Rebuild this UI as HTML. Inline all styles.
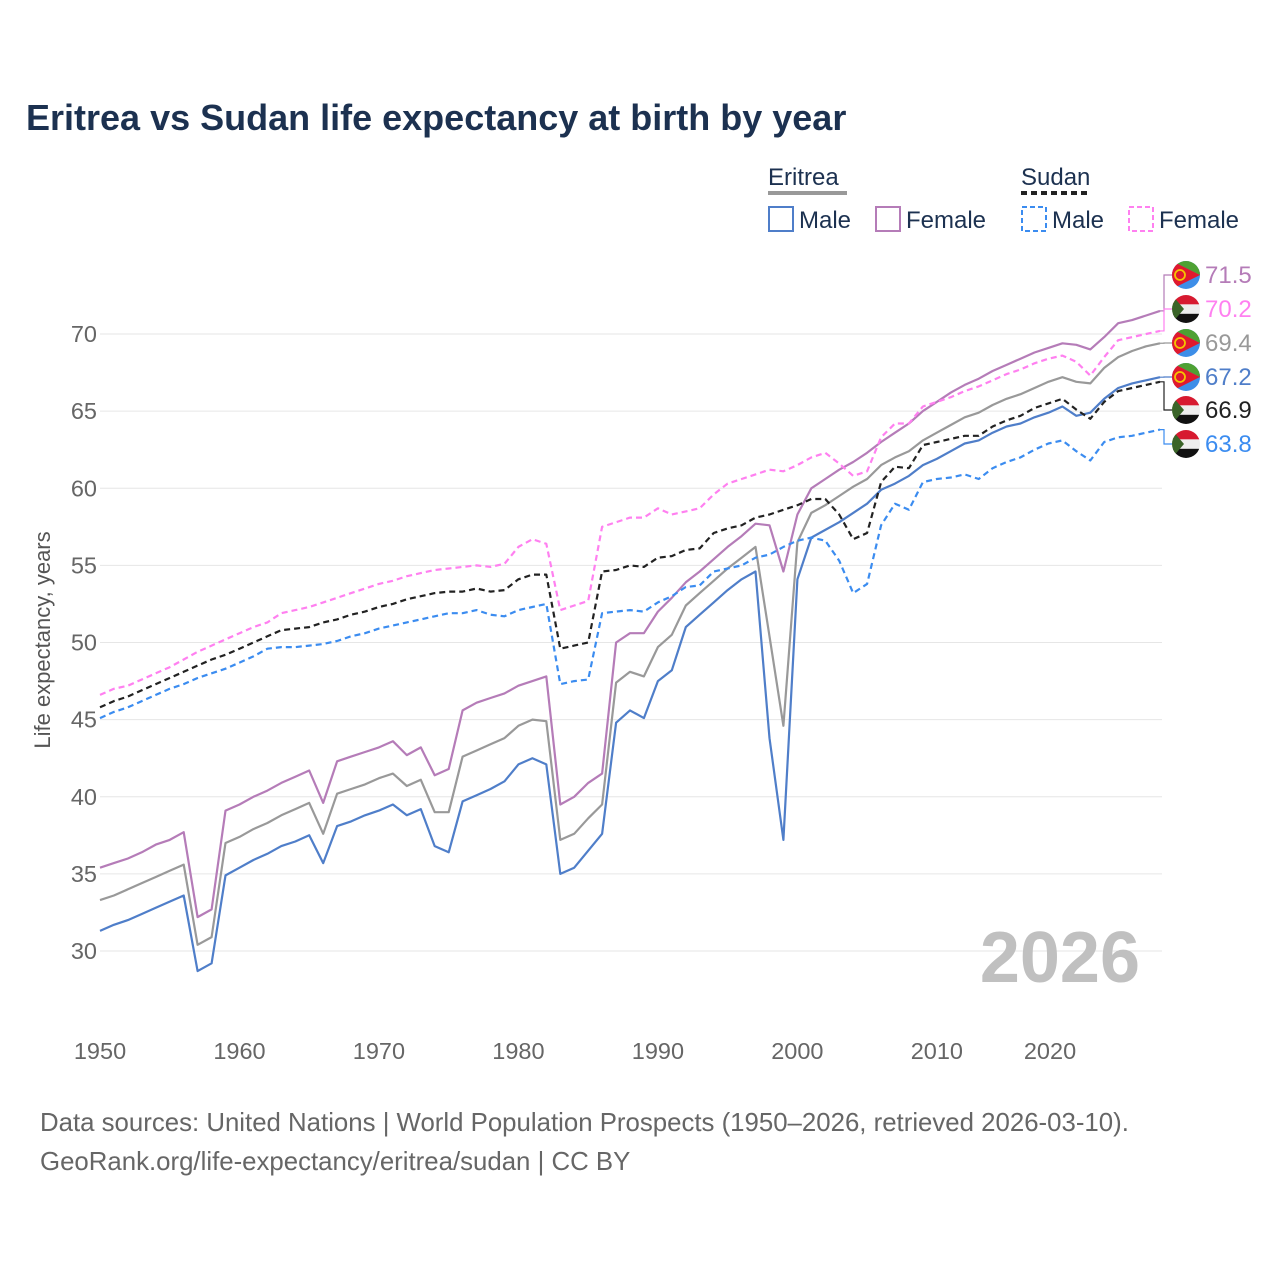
<!DOCTYPE html>
<html><head><meta charset="utf-8"><style>
body{margin:0;background:#fff;font-family:"Liberation Sans",sans-serif;}
svg text{font-family:"Liberation Sans",sans-serif;}
</style></head><body>
<svg id="chart" width="1280" height="1280" viewBox="0 0 1280 1280" xmlns="http://www.w3.org/2000/svg">
<text x="26" y="130" font-size="36" font-weight="bold" fill="#1c3150">Eritrea vs Sudan life expectancy at birth by year</text>
<g>
<text x="768" y="185" font-size="24" fill="#1c3150">Eritrea</text>
<line x1="768" y1="193" x2="847" y2="193" stroke="#999" stroke-width="4"/>
<text x="1021" y="185" font-size="24" fill="#1c3150">Sudan</text>
<line x1="1021" y1="193" x2="1091" y2="193" stroke="#222" stroke-width="4" stroke-dasharray="6,4"/>
<g><rect x="769" y="207" width="24" height="24" fill="none" stroke="#4f7ec9" stroke-width="2"/><text x="799" y="228" font-size="24" fill="#1c3150">Male</text></g>
<g><rect x="876" y="207" width="24" height="24" fill="none" stroke="#b57cb8" stroke-width="2"/><text x="906" y="228" font-size="24" fill="#1c3150">Female</text></g>
<g><rect x="1022" y="207" width="24" height="24" fill="none" stroke="#3b8cf0" stroke-width="2" stroke-dasharray="5,3"/><text x="1052" y="228" font-size="24" fill="#1c3150">Male</text></g>
<g><rect x="1129" y="207" width="24" height="24" fill="none" stroke="#ff80f0" stroke-width="2" stroke-dasharray="5,3"/><text x="1159" y="228" font-size="24" fill="#1c3150">Female</text></g>
</g>
<g id="grid"></g>
<g id="xaxis"></g>
<text transform="translate(50,640) rotate(-90)" text-anchor="middle" font-size="22" fill="#555">Life expectancy, years</text>
<text x="1140" y="982" text-anchor="end" font-size="72" font-weight="bold" fill="#c0c0c0">2026</text>
<g id="series"></g>
<g id="labels"></g>
<text x="40" y="1131" font-size="25.8" fill="#666">Data sources: United Nations | World Population Prospects (1950–2026, retrieved 2026-03-10).</text>
<text x="40" y="1170" font-size="25.8" fill="#666">GeoRank.org/life-expectancy/eritrea/sudan | CC BY</text>
</svg>
<script>
const startYear = 1950;
const yTicks = [30,35,40,45,50,55,60,65,70];
const xTicks = [1950,1960,1970,1980,1990,2000,2010,2020];
const eritreaMale = [31.3,31.7,32.0,32.4,32.8,33.2,33.6,28.7,29.2,34.9, 35.4,35.9,36.3,36.8,37.1,37.5,35.7,38.1,38.4,38.8, 39.1,39.5,38.8,39.2,36.8,36.4,39.7,40.1,40.5,41.0, 42.1,42.5,42.1,35.0,35.4,36.5,37.6,44.8,45.6,45.1, 47.5,48.2,51.0,51.8,52.6,53.4,54.1,54.6,43.8,37.2, 54.1,56.8,57.3,57.8,58.4,59.0,59.9,60.3,60.8,61.5, 61.9,62.4,62.9,63.1,63.6,64.0,64.2,64.6,64.9,65.3, 64.7,64.9,65.8,66.5,66.8,67.0,67.2];
const eritreaBoth = [33.3,33.6,34.0,34.4,34.8,35.2,35.6,30.4,30.9,37.0, 37.4,37.9,38.3,38.8,39.2,39.6,37.6,40.2,40.5,40.8, 41.2,41.5,40.7,41.1,39.0,39.0,42.6,43.0,43.4,43.8, 44.6,45.0,44.9,37.2,37.6,38.6,39.5,47.4,48.1,47.8, 49.7,50.5,52.4,53.2,54.0,54.8,55.5,56.2,50.4,44.6, 56.5,58.4,58.9,59.5,60.1,60.6,61.5,62.0,62.4,63.1, 63.6,64.1,64.6,64.9,65.4,65.8,66.1,66.5,66.9,67.2, 66.9,66.8,67.8,68.5,68.9,69.2,69.4];
const eritreaFemale = [35.4,35.7,36.0,36.4,36.9,37.2,37.7,32.2,32.7,39.1, 39.5,40.0,40.4,40.9,41.3,41.7,39.6,42.3,42.6,42.9, 43.2,43.6,42.7,43.2,41.4,41.8,45.6,46.1,46.4,46.7, 47.2,47.5,47.8,39.5,40.0,40.9,41.5,50.0,50.6,50.6, 52.0,52.9,53.9,54.6,55.4,56.2,56.9,57.7,57.6,54.6, 58.3,60.0,60.6,61.2,61.7,62.3,63.0,63.6,64.2,65.0, 65.6,66.2,66.7,67.1,67.6,68.0,68.4,68.8,69.1,69.4, 69.3,69.0,69.8,70.7,70.9,71.2,71.5];
const sudanBoth = [45.8,46.2,46.5,46.9,47.3,47.7,48.1,48.5,48.9,49.2, 49.6,50.0,50.4,50.8,50.9,51.0,51.3,51.5,51.8,52.0, 52.3,52.5,52.8,53.0,53.2,53.3,53.3,53.5,53.3,53.4, 54.1,54.4,54.4,49.6,49.8,50.0,54.6,54.7,55.0,54.9, 55.5,55.6,56.0,56.1,57.1,57.4,57.6,58.1,58.3,58.6, 58.9,59.3,59.3,58.3,56.7,57.1,60.4,61.4,61.3,62.8, 63.0,63.2,63.4,63.4,64.0,64.4,64.7,65.2,65.5,65.8, 65.1,64.5,65.6,66.3,66.5,66.7,66.9];
const sudanMale = [45.1,45.5,45.8,46.2,46.6,47.0,47.3,47.7,48.0,48.3, 48.7,49.1,49.6,49.7,49.7,49.8,49.9,50.1,50.4,50.6, 50.9,51.1,51.3,51.5,51.7,51.9,51.9,52.1,51.8,51.7, 52.1,52.3,52.5,47.3,47.5,47.6,51.9,52.0,52.1,52.0, 52.6,53.0,53.6,53.7,54.6,54.8,55.0,55.5,55.7,56.2, 56.6,56.8,56.6,55.3,53.2,53.8,57.6,59.0,58.6,60.4, 60.6,60.7,60.9,60.6,61.3,61.7,62.0,62.5,62.9,63.1, 62.4,61.8,63.0,63.3,63.4,63.6,63.8];
const sudanFemale = [46.6,47.0,47.2,47.6,48.0,48.4,48.9,49.4,49.8,50.2, 50.6,51.0,51.3,51.9,52.1,52.3,52.6,52.9,53.2,53.5, 53.8,54.0,54.3,54.5,54.7,54.8,54.9,55.0,54.9,55.1, 56.2,56.7,56.4,52.1,52.4,52.7,57.5,57.8,58.1,58.1, 58.7,58.3,58.5,58.7,59.6,60.3,60.6,60.9,61.2,61.1, 61.5,62.0,62.3,61.6,60.8,61.1,63.3,64.2,64.2,65.3, 65.6,65.9,66.3,66.6,67.0,67.4,67.7,68.1,68.4,68.6, 68.2,67.3,68.5,69.6,69.8,70.0,70.2];

const NS='http://www.w3.org/2000/svg';
const X0=100, XW=(1160-100)/76;
function x(yr){return X0+(yr-startYear)*XW;}
function y(v){return 951-(v-30)*15.425;}
function mk(tag,attrs,parent){const e=document.createElementNS(NS,tag);for(const k in attrs)e.setAttribute(k,attrs[k]);parent.appendChild(e);return e;}

const grid=document.getElementById('grid');
yTicks.forEach(t=>{
  const l=mk('line',{x1:100,x2:1162,y1:y(t),y2:y(t),stroke:'#e6e6e6','stroke-width':1},grid);
  
  
  const tx=mk('text',{x:97,y:y(t)+8,'text-anchor':'end','font-size':23.5,fill:'#666'},grid);
  tx.textContent=t;
  
  
});
const xa=document.getElementById('xaxis');
xTicks.forEach(t=>{
  const px = t===2020 ? 1050 : x(t);
  const tx=mk('text',{x:px,y:1059,'text-anchor':'middle','font-size':23.5,fill:'#666'},xa);
  tx.textContent=t;
  
  
});

const seriesDefs=[
 {name:'eritrea-male',data:eritreaMale,color:'#4f7ec9',dash:null},
 {name:'eritrea-both',data:eritreaBoth,color:'#999999',dash:null},
 {name:'eritrea-female',data:eritreaFemale,color:'#b57cb8',dash:null},
 {name:'sudan-male',data:sudanMale,color:'#3b8cf0',dash:'6,4'},
 {name:'sudan-female',data:sudanFemale,color:'#ff80f0',dash:'6,4'},
 {name:'sudan-both',data:sudanBoth,color:'#222222',dash:'6,4'}
];
const sg=document.getElementById('series');
seriesDefs.forEach(s=>{
  const d=s.data.map((v,i)=>(i?'L':'M')+x(startYear+i).toFixed(1)+','+y(v).toFixed(1)).join('');
  const p=mk('path',{d:d,fill:'none',stroke:s.color,'stroke-width':2.2,'stroke-linejoin':'round'},sg);
  if(s.dash)p.setAttribute('stroke-dasharray',s.dash);
  
  
});

const labelDefs=[
 {s:'eritrea-female',data:eritreaFemale,color:'#b57cb8',ly:275,flag:'er'},
 {s:'sudan-female',data:sudanFemale,color:'#ff80f0',ly:309,flag:'sd'},
 {s:'eritrea-both',data:eritreaBoth,color:'#999999',ly:343,flag:'er'},
 {s:'eritrea-male',data:eritreaMale,color:'#4f7ec9',ly:377,flag:'er'},
 {s:'sudan-both',data:sudanBoth,color:'#222222',ly:410,flag:'sd'},
 {s:'sudan-male',data:sudanMale,color:'#3b8cf0',ly:444,flag:'sd'}
];
const lg=document.getElementById('labels');
let cid=0;
labelDefs.forEach(L=>{
  const last=L.data[L.data.length-1];
  const ey=y(last);
  const c=mk('path',{d:`M1160,${ey}L1164,${ey}L1164,${L.ly}L1172,${L.ly}`,fill:'none',stroke:L.color,'stroke-width':1.2},lg);
  
  
  const g=mk('g',{},lg);
  
  
  const cx=1186, cy=L.ly, r=14; cid++;
  const cp=mk('clipPath',{id:'fc'+cid},g); mk('circle',{cx:cx,cy:cy,r:r},cp);
  const fg=mk('g',{'clip-path':'url(#fc'+cid+')'},g);
  if(L.flag==='er'){
    mk('rect',{x:cx-r,y:cy-r,width:2*r,height:2*r,fill:'#3d8ee8'},fg);
    mk('polygon',{points:`${cx-r},${cy-r} ${cx+r},${cy-r} ${cx+r},${cy}`,fill:'#4ea133'},fg);
    mk('polygon',{points:`${cx-r},${cy-r} ${cx+r},${cy} ${cx-r},${cy+r}`,fill:'#e0192e'},fg);
    mk('circle',{cx:cx-6,cy:cy,r:5,fill:'none',stroke:'#f5c400','stroke-width':1.8},fg);
  }else{
    mk('rect',{x:cx-r,y:cy-r,width:2*r,height:9.4,fill:'#d71a30'},fg);
    mk('rect',{x:cx-r,y:cy-r+9.4,width:2*r,height:9.4,fill:'#eeeeee'},fg);
    mk('rect',{x:cx-r,y:cy-r+18.8,width:2*r,height:9.4,fill:'#111'},fg);
    mk('polygon',{points:`${cx-r},${cy-r} ${cx-2},${cy} ${cx-r},${cy+r}`,fill:'#3a6428'},fg);
  }
  const t=mk('text',{x:1205,y:L.ly+8,'font-size':24,fill:L.color},lg);
  t.textContent=last.toFixed(1);
  
  
});
</script>
</body></html>
